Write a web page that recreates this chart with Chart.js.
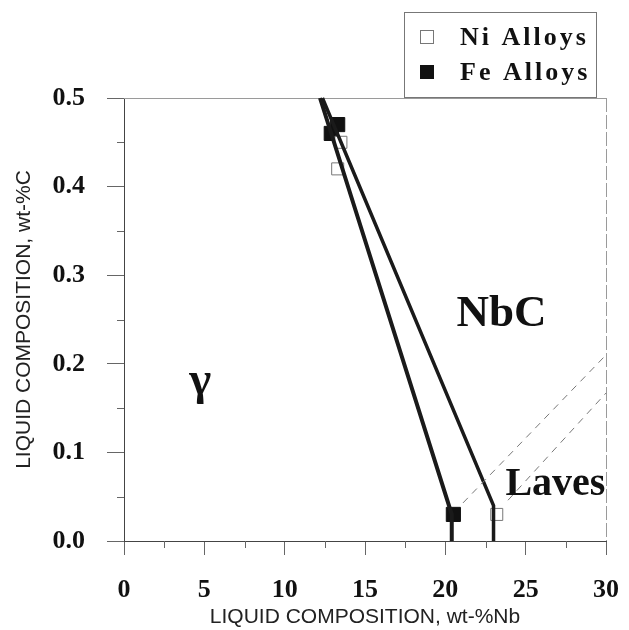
<!DOCTYPE html>
<html>
<head>
<meta charset="utf-8">
<script src="https://cdn.jsdelivr.net/npm/chart.js@4.4.0/dist/chart.umd.min.js"></script>
<style>
html, body { margin: 0; padding: 0; background: #fff; }
#wrap { width: 629px; height: 630px; }
</style>
</head>
<body>
<div id="wrap"><canvas id="phaseChart"></canvas></div>
<script>
// measured compositions
var niAlloysNb = [13.5, 13.3, 23.2];
var niAlloysC = [0.45, 0.42, 0.03];
var feAlloysNb = [12.9, 13.3, 20.5];
var feAlloysC = [0.46, 0.47, 0.03];

// solid boundary lines
var feLineNb = [12.2, 20.4, 20.4];
var feLineC = [0.5, 0.03, 0.0];
var niLineNb = [12.35, 23.0, 23.0];
var niLineC = [0.5, 0.04, 0.0];

// dashed Laves lines
var dashUpperNb = [21.1, 30];
var dashUpperC = [0.043, 0.21];
var dashLowerNb = [23.9, 30];
var dashLowerC = [0.046, 0.167];

// phase region labels
var regionNames = ['γ', 'NbC', 'Laves'];
var regionNb = [4.75, 23.5, 26.85];
var regionC = [0.18, 0.256, 0.064];

var xTicks = [0, 5, 10, 15, 20, 25, 30];
var yTicks = [0.0, 0.1, 0.2, 0.3, 0.4, 0.5];

function toPoints(xs, ys) {
    var pts = [];
    for (var i = 0; i < xs.length; i++) {
        pts.push({ x: xs[i], y: ys[i] });
    }
    return pts;
}

var serif = "'Liberation Serif', 'DejaVu Serif', serif";
var sans = "'Liberation Sans', Arial, sans-serif";

var decorPlugin = {
    id: 'decor',
    beforeDatasetsDraw: function (chart) {
        var ctx = chart.ctx;
        var a = chart.chartArea;
        var xs = chart.scales.x, ys = chart.scales.y;
        ctx.save();
        // top and right frame
        ctx.lineWidth = 1;
        ctx.strokeStyle = '#9a9a9a';
        ctx.beginPath();
        ctx.moveTo(a.left, a.top + 0.5);
        ctx.lineTo(a.right, a.top + 0.5);
        ctx.stroke();
        ctx.setLineDash([14, 3]);
        ctx.beginPath();
        ctx.moveTo(a.right + 0.5, a.top);
        ctx.lineTo(a.right + 0.5, a.bottom);
        ctx.stroke();
        ctx.setLineDash([]);
        // minor ticks
        ctx.strokeStyle = '#666';
        ctx.beginPath();
        for (var i = 0; i < xTicks.length - 1; i++) {
            var px = Math.round(xs.getPixelForValue(xTicks[i] + 2.5)) + 0.5;
            ctx.moveTo(px, a.bottom);
            ctx.lineTo(px, a.bottom + 7);
        }
        for (var j = 0; j < yTicks.length - 1; j++) {
            var py = Math.round(ys.getPixelForValue(yTicks[j] + 0.05)) + 0.5;
            ctx.moveTo(a.left, py);
            ctx.lineTo(a.left - 7, py);
        }
        ctx.stroke();
        ctx.restore();
    },
    afterDatasetsDraw: function (chart) {
        var ctx = chart.ctx;
        var xs = chart.scales.x, ys = chart.scales.y;
        var sizes = [47, 45, 40];
        ctx.save();
        ctx.fillStyle = '#111';
        ctx.textAlign = 'center';
        ctx.textBaseline = 'middle';
        for (var i = 0; i < regionNames.length; i++) {
            ctx.font = 'bold ' + sizes[i] + 'px ' + serif;
            ctx.fillText(regionNames[i], xs.getPixelForValue(regionNb[i]), ys.getPixelForValue(regionC[i]));
        }

        // legend box
        ctx.strokeStyle = '#777';
        ctx.lineWidth = 1;
        ctx.strokeRect(404.5, 12.5, 192, 85);
        var sets = chart.data.datasets.filter(function (d) { return d.inLegend; });
        ctx.textAlign = 'left';
        ctx.font = 'bold 26px ' + serif;
        ctx.letterSpacing = '3px';
        sets.forEach(function (d, k) {
            var cy = 37 + k * 35;
            if (d.pointBackgroundColor === '#fff') {
                ctx.strokeStyle = '#777';
                ctx.strokeRect(420.5, cy - 6.5, 13, 13);
            } else {
                ctx.fillStyle = '#111';
                ctx.fillRect(420, cy - 7, 14, 14);
            }
            ctx.fillStyle = '#111';
            ctx.fillText(d.label, 460, cy + 1);
        });
        ctx.restore();
    }
};

var ctx = document.getElementById('phaseChart').getContext('2d');
var phaseChart = new Chart(ctx, {
    type: 'scatter',
    data: {
        datasets: [
            {
                label: 'upper dashed',
                data: toPoints(dashUpperNb, dashUpperC),
                showLine: true, borderColor: '#777', borderWidth: 1,
                borderDash: [7, 6], pointRadius: 0
            },
            {
                label: 'lower dashed',
                data: toPoints(dashLowerNb, dashLowerC),
                showLine: true, borderColor: '#777', borderWidth: 1,
                borderDash: [7, 6], pointRadius: 0
            },
            {
                label: 'Fe boundary',
                data: toPoints(feLineNb, feLineC),
                showLine: true, borderColor: '#1a1a1a', borderWidth: 4,
                pointRadius: 0
            },
            {
                label: 'Ni boundary',
                data: toPoints(niLineNb, niLineC),
                showLine: true, borderColor: '#1a1a1a', borderWidth: 3.5,
                pointRadius: 0
            },
            {
                label: 'Ni Alloys',
                inLegend: true,
                data: toPoints(niAlloysNb, niAlloysC),
                pointStyle: 'rect', pointRadius: 8.5,
                pointBackgroundColor: '#fff', pointBorderColor: '#777',
                pointBorderWidth: 1
            },
            {
                label: 'Fe Alloys',
                inLegend: true,
                data: toPoints(feAlloysNb, feAlloysC),
                pointStyle: 'rect', pointRadius: 10,
                pointBackgroundColor: '#111', pointBorderColor: '#111',
                pointBorderWidth: 1
            }
        ]
    },
    options: {
        responsive: true,
        maintainAspectRatio: false,
        animation: false,
        clip: false,
        layout: { padding: { top: 98, right: 23, left: 0, bottom: 0 } },
        plugins: {
            legend: { display: false },
            tooltip: { enabled: false }
        },
        scales: {
            x: {
                type: 'linear',
                position: 'bottom',
                min: 0, max: 30,
                border: { display: true, color: '#444', width: 1 },
                grid: { drawOnChartArea: false, drawTicks: true, tickLength: 14, tickColor: '#666' },
                ticks: {
                    stepSize: 5, padding: 20, color: '#111',
                    font: { family: serif, weight: 'bold', size: 26 }
                },
                title: {
                    display: true, text: 'LIQUID COMPOSITION, wt-%Nb', color: '#222',
                    font: { family: sans, size: 21 }, padding: { top: 0, bottom: 0 }
                },
                afterFit: function (s) {
                    s.height = 89;
                    s.paddingLeft = 0;
                    s.paddingRight = 0;
                }
            },
            y: {
                type: 'linear',
                position: 'left',
                min: 0, max: 0.5,
                border: { display: true, color: '#444', width: 1 },
                grid: { drawOnChartArea: false, drawTicks: true, tickLength: 17, tickColor: '#666' },
                ticks: {
                    stepSize: 0.1, padding: 22, color: '#111',
                    font: { family: serif, weight: 'bold', size: 26 },
                    callback: function (v) { return v.toFixed(1); }
                },
                title: {
                    display: true, text: 'LIQUID COMPOSITION, wt-%C', color: '#222',
                    font: { family: sans, size: 21 }, padding: { top: 12, bottom: 0 }
                },
                afterFit: function (s) { s.width = 124; }
            }
        }
    },
    plugins: [decorPlugin]
});
</script>
</body>
</html>
